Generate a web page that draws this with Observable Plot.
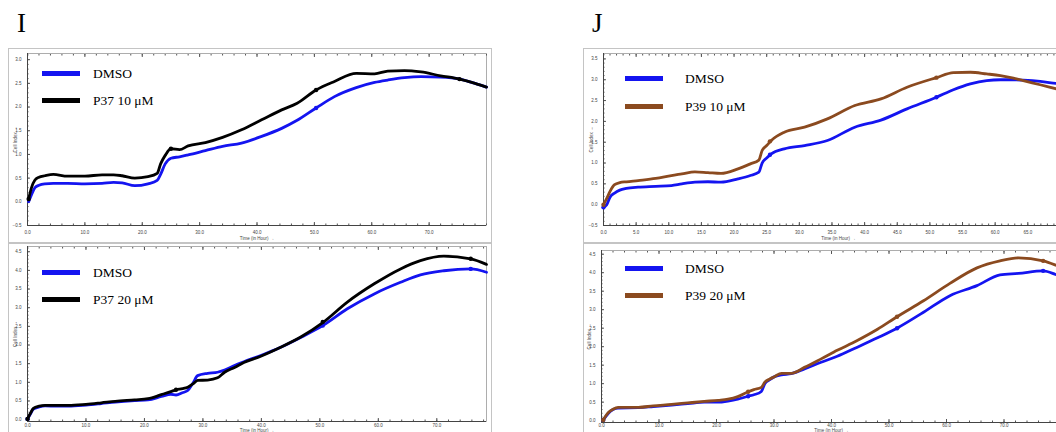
<!DOCTYPE html>
<html><head><meta charset="utf-8">
<script src="https://cdn.jsdelivr.net/npm/d3@7"></script>
<script src="https://cdn.jsdelivr.net/npm/@observablehq/plot@0.6"></script>
<style>
body{margin:0;background:#fff;}
#root{position:relative;width:1056px;height:432px;overflow:hidden;background:#fff;font-family:"Liberation Serif","Times New Roman",serif;}
.frame{position:absolute;border:1px solid #c4c4c4;box-sizing:border-box;}
.letter{position:absolute;font-size:27px;line-height:27px;color:#000;}
.plotwrap{position:absolute;left:0;top:0;pointer-events:none;}
.leg{position:absolute;display:flex;align-items:center;height:16px;font-size:13.5px;line-height:13px;color:#000;white-space:nowrap;}
.sw{height:5px;width:38px;}
</style>
</head><body><div id="root"></div>
<script>
// ---------- DATA ----------
const colorDMSO = "#1414f0", colorP37 = "#000000", colorP39 = "#8b4a1f";

// Panel I (top): DMSO vs P37 10 µM
const timeI10 = [0.2,0.7,1.3,2,3,4.5,7,10,13,15,16.5,18.7,21,22.6,23.2,24,25,26.5,28,31,34,37.3,40.8,44.3,47,50.3,53.5,57.3,60.5,62.8,65.7,68.6,72,75.3,78,80];
const dmsoI10 = [0.0,0.15,0.30,0.35,0.38,0.39,0.39,0.38,0.39,0.41,0.40,0.34,0.38,0.45,0.58,0.80,0.92,0.95,0.99,1.08,1.17,1.24,1.38,1.55,1.72,1.98,2.22,2.41,2.52,2.57,2.62,2.64,2.63,2.59,2.50,2.42];
const p37_10  = [0.06,0.30,0.46,0.52,0.55,0.58,0.54,0.54,0.57,0.57,0.55,0.50,0.53,0.60,0.80,0.98,1.12,1.10,1.18,1.25,1.36,1.52,1.73,1.94,2.08,2.36,2.54,2.71,2.70,2.76,2.77,2.74,2.66,2.59,2.50,2.42];

// Panel I (bottom): DMSO vs P37 20 µM
const timeI20 = [0,0.5,1,2,3,5,7,10,12.6,15,18.3,20.6,22.9,24.5,25.4,26.5,27.4,28.3,29.1,30.8,32.5,33.7,35.4,37,39.9,43.3,46.8,50.5,54.7,59.3,63.8,67.2,71.2,75.8,78.5];
const dmsoI20 = [0.02,0.15,0.28,0.34,0.37,0.36,0.36,0.39,0.43,0.47,0.51,0.53,0.62,0.68,0.66,0.72,0.78,0.98,1.18,1.24,1.27,1.33,1.45,1.55,1.72,1.94,2.21,2.52,2.97,3.37,3.68,3.88,3.99,4.04,3.95];
const p37_20  = [0.02,0.17,0.30,0.36,0.38,0.38,0.38,0.41,0.45,0.49,0.53,0.56,0.67,0.75,0.80,0.83,0.87,0.96,1.05,1.06,1.12,1.27,1.40,1.53,1.70,1.94,2.22,2.60,3.15,3.64,4.04,4.26,4.38,4.31,4.16];

// Panel J (top): DMSO vs P39 10 µM
const timeJ10 = [0,0.5,1,1.7,2.5,3.5,5.3,8,10.4,12,14,16,18,20.6,22.5,23.8,24.3,25,25.7,27.7,30.8,34.3,38.5,42.5,46.5,51,53.6,56.2,58.7,60.8,62.8,64.3,66.9,69.4,72];
const dmsoJ10 = [-0.06,0.0,0.18,0.28,0.35,0.39,0.42,0.44,0.46,0.50,0.54,0.55,0.54,0.62,0.70,0.78,1.00,1.12,1.22,1.34,1.42,1.54,1.86,2.03,2.30,2.58,2.76,2.90,2.98,3.00,3.00,2.99,2.96,2.91,2.87];
const p39_10  = [0.0,0.15,0.32,0.48,0.53,0.55,0.58,0.63,0.70,0.74,0.79,0.77,0.75,0.86,0.98,1.07,1.30,1.42,1.54,1.74,1.86,2.06,2.38,2.54,2.82,3.05,3.17,3.18,3.14,3.10,3.04,2.98,2.88,2.78,2.68];

// Panel J (bottom): DMSO vs P39 20 µM
const timeJ20 = [0.3,0.7,1.2,2,2.9,6.4,9,12.2,15,17.9,20.3,22,23.7,25.5,26.5,27.8,28.4,29.2,30.1,31.3,33,35.3,38.2,41,44.4,48,51.4,56,60.6,65.3,69.3,72.5,76.8,79.2,80];
const dmsoJ20 = [0.02,0.10,0.20,0.30,0.34,0.35,0.38,0.42,0.46,0.50,0.50,0.53,0.58,0.66,0.70,0.79,1.00,1.10,1.19,1.24,1.27,1.40,1.58,1.74,1.98,2.24,2.50,2.93,3.38,3.65,3.94,3.98,4.05,3.94,3.90];
const p39_20  = [0.02,0.12,0.22,0.31,0.36,0.36,0.40,0.44,0.48,0.52,0.55,0.58,0.65,0.78,0.84,0.90,1.04,1.12,1.19,1.28,1.28,1.44,1.67,1.90,2.16,2.47,2.81,3.24,3.71,4.13,4.32,4.40,4.32,4.19,4.14];

// event markers (time, value)
const markI10 = {dmsoT:[50.3], dmsoV:[1.98], trtT:[0.2,25,50.3,75.3], trtV:[0.06,1.12,2.36,2.59]};
const markI20 = {dmsoT:[0,50.5,75.8], dmsoV:[0.02,2.52,4.04], trtT:[0,25.4,50.5,75.8], trtV:[0.02,0.80,2.62,4.31]};
const markJ10 = {dmsoT:[0,25.5,51], dmsoV:[-0.06,1.2,2.58], trtT:[0,25.5,51], trtV:[0,1.52,3.05]};
const markJ20 = {dmsoT:[0.3,25.5,51.4,76.8], dmsoV:[0.02,0.66,2.50,4.05], trtT:[0.3,25.5,51.4,76.8], trtV:[0.02,0.78,2.81,4.32]};

// tick labels
const xTicksI = [0,10,20,30,40,50,60,70];
const xTicksJ10 = [0,5,10,15,20,25,30,35,40,45,50,55,60,65];
const xTicksJ20 = [0,10,20,30,40,50,60,70];
const yTicksI10 = [-0.5,0,0.5,1,1.5,2,2.5,3];
const yTicksJ10 = [-0.5,0,0.5,1,1.5,2,2.5,3,3.5];
const yTicks20 = [0,0.5,1,1.5,2,2.5,3,3.5,4,4.5];

// legend labels
const labelsI10 = ["DMSO","P37 10 μM"];
const labelsI20 = ["DMSO","P37 20 μM"];
const labelsJ10 = ["DMSO","P39 10 μM"];
const labelsJ20 = ["DMSO","P39 20 μM"];

// ---------- LAYOUT ----------
const W = 1100, H = 432;
const root = document.getElementById("root");

const panels = [
  {box:[27,486,53,225], xd:[0,80], yd:[-0.5,3.13], t:timeI10, a:dmsoI10, b:p37_10, cb:colorP37, mk:markI10,
   xt:xTicksI, xm:2, yt:yTicksI10, labels:labelsI10, frame:[8,48,484,195], leg:[42,93,73,100], lo:14, tp:5},
  {box:[27,486,246,421], xd:[0,78.5], yd:[-0.05,4.64], t:timeI20, a:dmsoI20, b:p37_20, cb:colorP37, mk:markI20,
   xt:xTicksI, xm:2, yt:yTicks20, labels:labelsI20, frame:[8,243,484,200], leg:[42,93,272,299], lo:10.8, tp:2},
  {box:[603,1073,53,225], xd:[0,72], yd:[-0.5,3.63], t:timeJ10, a:dmsoJ10, b:p39_10, cb:colorP39, mk:markJ10,
   xt:xTicksJ10, xm:1, yt:yTicksJ10, labels:labelsJ10, frame:[583,48,520,195], leg:[625,685,78,106], lo:14, tp:5},
  {box:[601,1061,250,422], xd:[0,80], yd:[-0.05,4.6], t:timeJ20, a:dmsoJ20, b:p39_20, cb:colorP39, mk:markJ20,
   xt:xTicksJ20, xm:2, yt:yTicks20, labels:labelsJ20, frame:[583,243,520,200], leg:[625,685,268,295], lo:9.8, tp:1.5}
];

// outer light frames
for (const p of panels) {
  const f = document.createElement("div");
  f.className = "frame";
  Object.assign(f.style, {left:p.frame[0]+"px", top:p.frame[1]+"px", width:p.frame[2]+"px", height:p.frame[3]+"px"});
  root.appendChild(f);
}

// panel letters
for (const [txt, left] of [["I",17],["J",592]]) {
  const d = document.createElement("div");
  d.className = "letter"; d.textContent = txt;
  d.style.left = left + "px"; d.style.top = "10px";
  root.appendChild(d);
}

const fmt = d3.format(".1f");
const blank = () => "";

for (const p of panels) {
  const rows = p.t.map((t,i) => ({t, a:p.a[i], b:p.b[i]}));
  const mA = p.mk.dmsoT.map((t,i)=>({t, v:p.mk.dmsoV[i]}));
  const mB = p.mk.trtT.map((t,i)=>({t, v:p.mk.trtV[i]}));
  const xMinor = d3.range(p.xd[0], p.xd[1] + 1e-9, p.xm);
  const yMinor = d3.range(Math.ceil(p.yd[0]*10)/10, p.yd[1], 0.1).map(v => Math.round(v*10)/10);
  const chart = Plot.plot({
    width: W, height: H,
    marginLeft: p.box[0], marginRight: W - p.box[1], marginTop: p.box[2], marginBottom: H - p.box[3],
    x: {domain: p.xd},
    y: {domain: p.yd},
    style: {background: "transparent", maxWidth: "none", overflow: "visible", fontFamily: "'Liberation Sans', Arial, sans-serif"},
    marks: [
      Plot.frame({stroke: "#9a9a9a", strokeWidth: 0.8}),
      Plot.axisX({ticks: p.xt, tickSize: 0, tickPadding: p.tp, tickFormat: fmt, fontSize: 4.5, color: "#444",
                  label: "Time (in Hour)", labelAnchor: "center", labelOffset: p.lo}),
      Plot.axisX({ticks: p.xt, tickSize: -3, tickFormat: blank, label: null, color: "#555"}),
      Plot.axisX({ticks: xMinor, tickSize: -1.5, tickFormat: blank, label: null, color: "#555"}),
      Plot.axisX({anchor: "top", ticks: p.xt, tickSize: -3, tickFormat: blank, label: null, color: "#555"}),
      Plot.axisX({anchor: "top", ticks: xMinor, tickSize: -1.5, tickFormat: blank, label: null, color: "#555"}),
      Plot.axisY({ticks: p.yt, tickSize: 0, tickPadding: 6, tickFormat: fmt, fontSize: 4.5, color: "#444",
                  label: "Cell Index", labelAnchor: "center", labelOffset: 14}),
      Plot.axisY({ticks: p.yt, tickSize: -3, tickFormat: blank, label: null, color: "#555"}),
      Plot.axisY({ticks: yMinor, tickSize: -1.5, tickFormat: blank, label: null, color: "#555"}),
      Plot.ruleX([p.xd[0]], {stroke: "#444", strokeWidth: 1}),
      Plot.ruleY([p.yd[0]], {stroke: "#444", strokeWidth: 1}),
      Plot.line(rows, {x: "t", y: "a", stroke: colorDMSO, strokeWidth: 2.8, curve: "monotone-x"}),
      Plot.dot(mA, {x: "t", y: "v", fill: colorDMSO, r: 2.2}),
      Plot.line(rows, {x: "t", y: "b", stroke: p.cb, strokeWidth: 2.8, curve: "monotone-x"}),
      Plot.dot(mB, {x: "t", y: "v", fill: p.cb, r: 2.2})
    ]
  });
  const wrap = document.createElement("div");
  wrap.className = "plotwrap";
  wrap.appendChild(chart);
  root.appendChild(wrap);

  // legend
  const cols = [colorDMSO, p.cb];
  p.labels.forEach((lab, i) => {
    const row = document.createElement("div");
    row.className = "leg";
    row.style.left = p.leg[0] + "px";
    row.style.top = (p.leg[2 + i] - 8) + "px";
    const sw = document.createElement("div");
    sw.className = "sw"; sw.style.background = cols[i];
    const tx = document.createElement("span");
    tx.textContent = lab;
    tx.style.marginLeft = (p.leg[1] - p.leg[0] - 38) + "px";
    row.appendChild(sw); row.appendChild(tx);
    root.appendChild(row);
  });
}
</script>
</body></html>
